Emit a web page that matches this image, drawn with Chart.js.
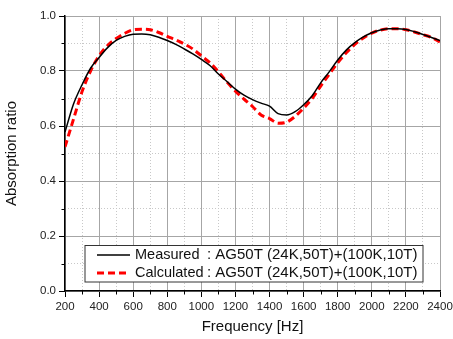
<!DOCTYPE html>
<html>
<head>
<meta charset="utf-8">
<script src="https://cdn.jsdelivr.net/npm/chart.js@4/dist/chart.umd.min.js"></script>
<style>
html,body{margin:0;padding:0;background:#fff;}
#c{display:block;}
</style>
</head>
<body>
<canvas id="c" width="453" height="339"></canvas>
<script>
const frequencies = [200,250,300,350,400,450,500,550,600,650,700,750,800,850,900,950,1000,1050,1100,1150,1200,1250,1300,1350,1400,1450,1500,1550,1600,1650,1700,1750,1800,1850,1900,1950,2000,2050,2100,2150,2200,2250,2300,2350,2400];
const measured = [0.578,0.680,0.750,0.810,0.849,0.885,0.911,0.926,0.934,0.935,0.932,0.923,0.911,0.897,0.880,0.862,0.842,0.820,0.789,0.762,0.734,0.712,0.696,0.683,0.672,0.645,0.640,0.652,0.677,0.710,0.757,0.797,0.840,0.876,0.903,0.924,0.939,0.949,0.954,0.954,0.951,0.943,0.933,0.922,0.911];
const calculated = [0.524,0.625,0.725,0.800,0.855,0.893,0.918,0.937,0.950,0.952,0.950,0.940,0.926,0.913,0.898,0.880,0.855,0.830,0.797,0.760,0.727,0.698,0.671,0.640,0.627,0.610,0.614,0.635,0.665,0.700,0.745,0.788,0.830,0.866,0.897,0.920,0.938,0.949,0.954,0.954,0.950,0.942,0.932,0.922,0.906];
const seriesNames = ["Measured", "Calculated"];
const seriesSuffix = ": AG50T (24K,50T)+(100K,10T)";
const xTitle = "Frequency [Hz]";
const yTitle = "Absorption ratio";

const FONT = "'Liberation Sans', Arial, sans-serif";

const legendPlugin = {
  id: 'boxLegend',
  afterDatasetsDraw(chart) {
    const ctx = chart.ctx;
    const x0 = 85, y0 = 245.5, w = 338, h = 36.5;
    ctx.save();
    ctx.fillStyle = '#fff';
    ctx.fillRect(x0, y0, w, h);
    ctx.strokeStyle = '#333';
    ctx.lineWidth = 1;
    ctx.strokeRect(x0, y0, w, h);
    ctx.textBaseline = 'middle';
    chart.data.datasets.forEach((ds, i) => {
      const cy = y0 + 9.5 + i * 18;
      ctx.beginPath();
      ctx.strokeStyle = ds.borderColor;
      ctx.lineWidth = ds.borderWidth;
      ctx.setLineDash(ds.borderDash || []);
      ctx.moveTo(97, cy);
      ctx.lineTo(130, cy);
      ctx.stroke();
      ctx.setLineDash([]);
      ctx.fillStyle = '#111';
      ctx.font = '14.5px ' + FONT;
      ctx.fillText(ds.label, 135, cy);
      ctx.font = '15px ' + FONT;
      ctx.fillText(seriesSuffix, 207, cy);
    });
    ctx.restore();
  }
};

const minorTicksPlugin = {
  id: 'minorTicks',
  afterDraw(chart) {
    const ctx = chart.ctx;
    const xs = chart.scales.x, ys = chart.scales.y;
    ctx.save();
    ctx.strokeStyle = '#000';
    ctx.lineWidth = 1;
    for (let v = 300; v <= 2300; v += 200) {
      const px = Math.round(xs.getPixelForValue(v)) + 0.5;
      ctx.beginPath();
      ctx.moveTo(px, ys.bottom);
      ctx.lineTo(px, ys.bottom + 3.5);
      ctx.stroke();
    }
    for (let k = 1; k <= 9; k += 2) {
      const py = Math.round(ys.getPixelForValue(k / 10)) + 0.5;
      ctx.beginPath();
      ctx.moveTo(xs.left, py);
      ctx.lineTo(xs.left - 3.5, py);
      ctx.stroke();
    }
    ctx.restore();
  }
};

new Chart(document.getElementById('c'), {
  type: 'line',
  data: {
    datasets: [
      {
        label: seriesNames[0],
        data: frequencies.map((f, i) => ({x: f, y: measured[i]})),
        borderColor: '#000000',
        borderWidth: 1.5,
        pointRadius: 0,
        fill: false,
        cubicInterpolationMode: 'monotone'
      },
      {
        label: seriesNames[1],
        data: frequencies.map((f, i) => ({x: f, y: calculated[i]})),
        borderColor: '#ff0000',
        borderWidth: 3,
        borderDash: [7, 4],
        pointRadius: 0,
        fill: false,
        cubicInterpolationMode: 'monotone'
      }
    ]
  },
  options: {
    responsive: false,
    animation: false,
    layout: {padding: {top: 16, right: 13, left: 0, bottom: 0}},
    plugins: {legend: {display: false}, tooltip: {enabled: false}},
    scales: {
      x2: {
        type: 'linear', position: 'top', min: 200, max: 2400,
        ticks: {display: false, stepSize: 100},
        grid: {
          drawTicks: false,
          color: c => (c.tick && c.tick.value % 200 === 0) ? 'rgba(0,0,0,0)' : '#c8c8c8',
          lineWidth: 1
        },
        border: {display: false, dash: [1, 2]},
        afterFit: s => { s.height = 0; s.paddingLeft = 0; s.paddingRight = 0; }
      },
      y2: {
        type: 'linear', position: 'right', min: 0, max: 1,
        ticks: {display: false, stepSize: 0.1},
        grid: {
          drawTicks: false,
          color: c => (c.tick && Math.round(c.tick.value * 10) % 2 === 0) ? 'rgba(0,0,0,0)' : '#c8c8c8',
          lineWidth: 1
        },
        border: {display: false, dash: [1, 2]},
        afterFit: s => { s.width = 0; s.paddingTop = 0; s.paddingBottom = 0; }
      },
      x: {
        type: 'linear', position: 'bottom', min: 200, max: 2400,
        ticks: {stepSize: 200, autoSkip: false, maxRotation: 0, color: '#222', font: {family: FONT, size: 11.5}, padding: 3, callback: v => String(v)},
        grid: {color: '#a6a6a6', lineWidth: 1, tickColor: '#000', tickLength: 6, tickWidth: 1},
        border: {color: '#000', width: 1.5},
        title: {display: true, text: xTitle, color: '#111', font: {family: FONT, size: 15}, padding: {top: 0, bottom: 3}},
        afterFit: s => { s.height = 48; s.paddingLeft = 0; s.paddingRight = 0; }
      },
      y: {
        type: 'linear', position: 'left', min: 0, max: 1,
        ticks: {stepSize: 0.2, color: '#222', font: {family: FONT, size: 11.5}, padding: 3, callback: v => v.toFixed(1)},
        grid: {color: '#a6a6a6', lineWidth: 1, tickColor: '#000', tickLength: 6, tickWidth: 1},
        border: {color: '#000', width: 1.5},
        title: {display: true, text: yTitle, color: '#111', font: {family: FONT, size: 15}, padding: {top: 3, bottom: 0}},
        afterFit: s => { s.width = 65; s.paddingTop = 0; s.paddingBottom = 0; }
      }
    }
  },
  plugins: [legendPlugin, minorTicksPlugin]
});
</script>
</body>
</html>
